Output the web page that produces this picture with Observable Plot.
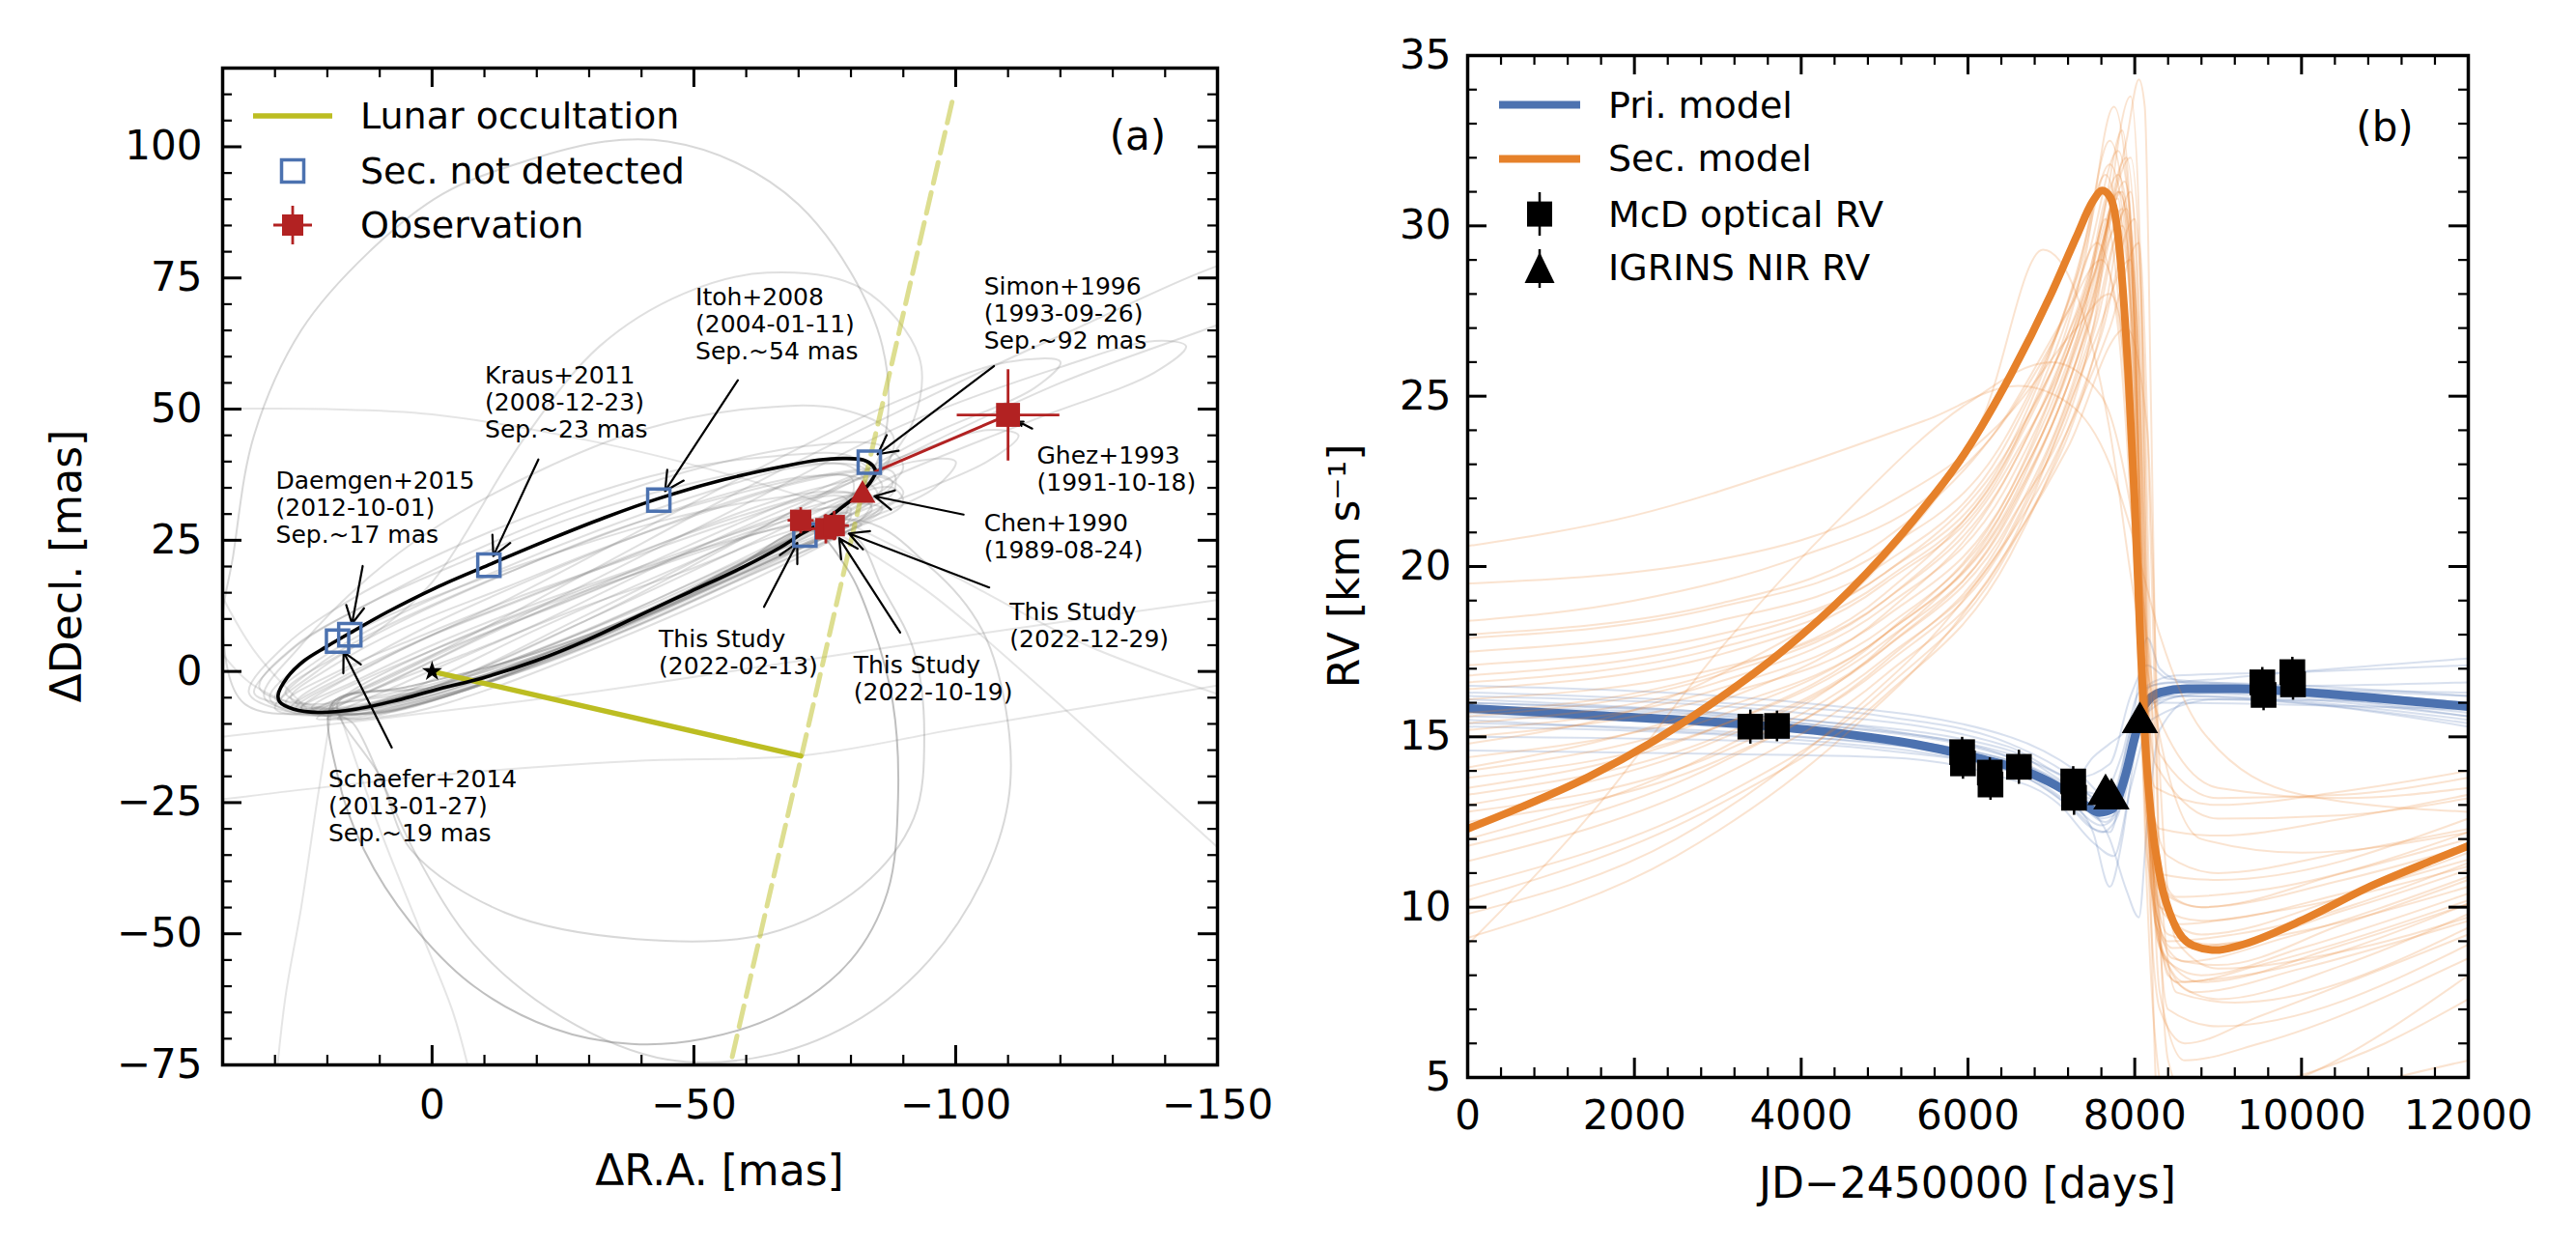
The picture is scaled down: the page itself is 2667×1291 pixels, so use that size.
<!DOCTYPE html>
<html><head><meta charset="utf-8">
<script src="https://cdn.jsdelivr.net/npm/d3@7"></script>
<script src="https://cdn.jsdelivr.net/npm/@observablehq/plot@0.6"></script>
<style>
html,body{margin:0;padding:0;background:#fff;}
#root{position:relative;width:2667px;height:1291px;overflow:hidden;font-family:"DejaVu Sans",sans-serif;}
#root svg{position:absolute;overflow:visible;}
</style></head><body><div id="root"></div>
<script>
// ---------------- Panel (a) data: relative astrometry [mas] ----------------
const raMajor = [0, -50, -100, -150];
const raMinor = [30, 20, 10, -10, -20, -30, -40, -60, -70, -80, -90, -110, -120, -130, -140];
const decMajor = [-75, -50, -25, 0, 25, 50, 75, 100];
const decMinor = d3.range(-70, 115, 5).filter(v => v % 25 !== 0);

const primaryStar = [[0, 0]];
const bestOrbit = [
  [29.4,-4.5],[27.7,-1.2],[24.5,2.0],[20.2,4.7],[15.2,7.6],[8.6,11.3],[-0.6,15.9],[-10.8,20.3],
  [-23.0,25.4],[-32.9,29.3],[-43.4,33.0],[-55.9,36.6],[-67.6,39.2],[-73.8,40.3],[-78.7,40.6],
  [-82.4,40.3],[-84.2,39.2],[-84.7,38.0],[-84.2,36.8],[-83.0,35.2],[-81.1,33.4],[-78.7,31.6],
  [-76.2,29.7],[-73.5,27.9],[-70.7,26.3],[-66.4,23.6],[-59.2,19.8],[-49.3,15.2],[-39.4,10.6],
  [-29.6,6.0],[-19.7,2.0],[-9.8,-1.2],[-0.6,-3.5],[6.7,-5.5],[14.6,-7.2],[21.8,-7.8],[26.4,-7.2],[29.1,-5.8]
];
const grayBandOrbits = [
  [[29,-6],[22,1],[10,8],[-10,17],[-30,25],[-50,32],[-70,37],[-81,37],[-85,34],[-80,30],[-68,24],[-50,15],[-30,6],[-10,-1],[8,-6],[20,-8]],
  [[27,-7],[17,-1],[0,7],[-20,15],[-40,23],[-60,30],[-76,34],[-84,33],[-82,29],[-70,24],[-50,15],[-30,6],[-10,-1],[8,-6],[19,-8]],
  [[24,-8],[12,-3],[-5,5],[-25,13],[-45,21],[-65,28],[-80,32],[-86,31],[-80,27],[-60,18],[-40,9],[-20,1],[0,-5],[14,-8]],
  [[33,-3],[26,5],[12,13],[-8,23],[-30,32],[-52,39],[-72,43],[-86,43],[-90,39],[-84,33],[-70,26],[-50,15],[-30,6],[-10,-1],[10,-5],[26,-6]],
  [[22,-9],[8,-2],[-15,9],[-40,20],[-65,31],[-90,41],[-106,46],[-112,45],[-106,40],[-85,31],[-60,19],[-35,8],[-10,-2],[8,-7]],
  [[20,-9],[5,-2],[-20,9],[-45,21],[-70,32],[-92,40],[-100,40],[-96,35],[-78,27],[-55,16],[-30,5],[-5,-4],[10,-8]],
  [[31,-5],[24,2],[12,9],[-5,16],[-25,23],[-45,29],[-65,33],[-80,34],[-84,31],[-78,27],[-62,20],[-42,11],[-20,3],[0,-3],[15,-7],[26,-8]],
  [[35,-4],[28,5],[15,14],[-5,24],[-25,32],[-45,38],[-65,41],[-80,41],[-84,37],[-78,31],[-62,22],[-42,12],[-20,3],[0,-4],[18,-8],[30,-7]],
  [[26,-6],[15,1],[0,9],[-20,18],[-42,27],[-62,34],[-78,38],[-88,38],[-88,34],[-78,29],[-60,21],[-40,12],[-20,4],[0,-3],[15,-7]],
  [[18,-9],[3,-3],[-20,8],[-45,19],[-68,29],[-82,34],[-86,32],[-78,26],[-58,16],[-35,6],[-12,-3],[5,-8]],
  [[32,-5],[25,5],[12,18],[0,27],[-20,38],[-40,46],[-60,50],[-78,50],[-88,45],[-86,38],[-72,28],[-52,17],[-30,6],[-8,-3],[12,-8]],
  [[20,-8],[0,2],[-30,17],[-60,32],[-90,47],[-120,58],[-138,63],[-144,62],[-138,57],[-115,48],[-90,38],[-60,24],[-30,10],[0,-3]],
  [[25,-7],[10,2],[-15,14],[-40,27],[-65,40],[-90,52],[-110,59],[-120,59],[-115,54],[-95,45],[-75,34],[-55,23],[-30,10],[-5,-1],[12,-5]],
  [[22,-8],[0,3],[-30,19],[-60,35],[-90,50],[-120,64],[-160,80],[-175,78],[-160,70],[-120,55],[-90,41],[-60,26],[-30,11],[0,-3]],
  [[30,-7],[22,0],[10,8],[0,17],[-18,45],[-32,62],[-48,72],[-64,76],[-82,73],[-93,60],[-92,48],[-85,38],[-72,28],[-52,17],[-30,6],[-8,-3],[12,-8]],
  [[23,-7],[14,-2],[0,4],[-20,12],[-40,19],[-58,25],[-72,29],[-80,30],[-78,27],[-65,22],[-45,13],[-25,4],[-5,-4],[10,-8]],
  [[28,-4],[18,3],[5,10],[-15,19],[-35,27],[-55,33],[-72,37],[-80,37],[-80,33],[-70,27],[-52,18],[-32,9],[-12,1],[6,-5],[20,-7]],
  [[25,-7],[15,-2],[0,5],[-20,13],[-40,20],[-60,27],[-74,31],[-80,31],[-78,28],[-66,23],[-48,15],[-28,6],[-8,-2],[10,-7]],
  [[28,-6],[18,0],[4,6],[-16,14],[-36,21],[-56,28],[-72,33],[-79,33],[-79,30],[-68,25],[-50,17],[-30,8],[-10,0],[8,-5],[21,-8]],
  [[21,-8],[10,-3],[-8,4],[-28,12],[-48,19],[-66,26],[-78,29],[-82,28],[-74,25],[-56,17],[-36,8],[-16,0],[2,-6],[14,-9]],
  [[30,-5],[22,2],[8,10],[-12,19],[-32,27],[-52,34],[-70,39],[-82,39],[-86,35],[-78,30],[-62,22],[-42,12],[-22,3],[-2,-4],[14,-7],[25,-7]],
  [[26,-7],[16,-1],[2,6],[-18,14],[-38,22],[-58,30],[-74,35],[-86,37],[-90,34],[-82,29],[-64,21],[-44,12],[-24,3],[-4,-4],[12,-8]],
  [[34,-4],[27,4],[14,12],[-6,21],[-26,29],[-46,35],[-66,39],[-80,39],[-83,35],[-76,29],[-58,20],[-38,10],[-18,2],[2,-5],[20,-8],[30,-6]],
  [[27,-5],[19,1],[6,8],[-14,16],[-34,24],[-54,31],[-70,36],[-83,38],[-88,36],[-82,31],[-66,23],[-46,13],[-26,5],[-6,-2],[12,-6],[22,-7]],
  [[23,-8],[13,-3],[-2,4],[-22,12],[-42,20],[-62,28],[-78,33],[-88,35],[-90,32],[-80,27],[-62,19],[-42,10],[-22,2],[-2,-5],[13,-8]]
];
const grayWideOrbits = [
  [[36,-6],[40,8],[38,22],[34,45],[25,65],[12,80],[-2,91],[-17,97],[-33,101],[-45,101],[-58,97],[-70,89],[-80,76],[-86,62],[-87,48],[-84,38],[-76,30],[-58,20],[-38,10],[-18,2],[2,-4],[22,-8]],
  [[-80,29],[-95,20],[-105,8],[-110,-10],[-110,-25],[-105,-40],[-95,-55],[-82,-66],[-65,-73],[-45,-74],[-25,-66],[-8,-52],[3,-35],[10,-20],[15,-10],[19,-7]],
  [[18,-6],[10,-20],[4,-34],[-14,-46],[-39,-51],[-64,-50],[-82,-41],[-92,-28],[-94,-12],[-92,4],[-86,16],[-80,26],[-60,19],[-40,10],[-20,2],[0,-3]]
];
const grayDarkOrbit = [
  [[19,-6],[18,-20],[13,-34],[4,-48],[-8,-60],[-23,-68],[-38,-71],[-52,-70],[-67,-65],[-80,-55],[-87,-42],[-89,-24],[-88,-6],[-84,9],[-79,20],[-72,27],[-55,18],[-35,9],[-15,2],[5,-3]]
];
const grayArcs = [
  [[19,-6],[22,-25],[25,-45],[28,-62],[30,-80]],
  [[18,-7],[10,-30],[2,-50],[-4,-65],[-8,-80]],
  [[45,-25],[20,-22],[-10,-19],[-40,-17],[-71,-16],[-100,-11],[-130,-6],[-160,-1]],
  [[45,-13],[10,-9],[-30,-4],[-70,2],[-110,8],[-160,15]],
  [[-78,26],[-95,15],[-115,-2],[-135,-20],[-155,-38]],
  [[-80,28],[-100,18],[-125,5],[-155,-6]],
  [[45,50],[20,50],[0,49],[-30,44],[-55,38],[-75,32]],
  [[24,-7],[34,4],[42,18]],
  [[22,-8],[35,-2],[45,10]]
];
const lunarSolid = [[0, 0], [-70.4, -16.1]];
const lunarDashed = [[-99.3, 108.5], [-56.5, -77]];
const notDetected = [[18.05,5.77],[15.71,7.0],[-10.85,20.25],[-43.3,32.65],[-83.5,39.9],[-71.2,26.0]];
// [x, y, xerr, yerr]
const observed = [[-70.4,28.8,2.5,2.5],[-75.2,27.2,2.8,2.8],[-76.8,27.8,2.8,2.8]];
const ghez = [[-110.0,48.9,9.8,8.7]];
const ghezLink = [[-84.5,38.0,-110.0,48.9]];
const chen = [[-82.2,33.6]];
const annText = [
  "Itoh+2008\n(2004-01-11)\nSep.~54 mas","Kraus+2011\n(2008-12-23)\nSep.~23 mas",
  "Daemgen+2015\n(2012-10-01)\nSep.~17 mas","Schaefer+2014\n(2013-01-27)\nSep.~19 mas",
  "Simon+1996\n(1993-09-26)\nSep.~92 mas","Ghez+1993\n(1991-10-18)","Chen+1990\n(1989-08-24)",
  "This Study\n(2022-02-13)","This Study\n(2022-10-19)","This Study\n(2022-12-29)"
];
const annXY = [[-50.3,71.8],[-10.1,56.9],[29.85,36.8],[19.8,-20.0],[-105.4,73.9],[-115.5,41.7],[-105.4,28.7],[-43.3,6.6],[-80.5,1.7],[-110.3,11.7]];
const arrowFrom = [[-58.4,55.5],[-20.3,40.4],[13.25,20.1],[7.7,-14.5],[-107.3,58.2],[-114.6,46.3],[-101.5,29.9],[-63.4,12.3],[-89.4,7.4],[-106.4,16.0]];
const arrowTo = [[-44.5,34.4],[-11.7,22.0],[15.3,9.1],[16.9,3.7],[-85.1,41.4],[-112.0,47.6],[-84.5,33.4],[-69.75,24.5],[-77.75,25.4],[-79.6,26.3]];

// ---------------- Panel (b) data: radial velocities ----------------
const jdMajor = d3.range(0, 12001, 2000);
const jdMinor = d3.range(0, 12001, 400).filter(v => v % 2000 !== 0);
const rvMajor = [5, 10, 15, 20, 25, 30, 35];
const rvMinor = d3.range(6, 35, 1).filter(v => v % 5 !== 0);

const priModel = [[0,15.84],[1454,15.64],[3387,15.36],[4572,15.07],[5351,14.79],[6130,14.37],[6753,13.93],[7143,13.45],[7416,12.98],[7572,12.78],[7728,12.88],[7884,13.83],[8000,14.98],[8117,15.93],[8312,16.31],[8624,16.41],[9247,16.41],[10027,16.31],[10806,16.16],[12000,15.89]];
const secModel = [[0,12.3],[675,12.97],[1454,13.83],[2234,14.88],[3013,16.12],[3792,17.55],[4572,19.27],[5351,21.37],[5974,23.37],[6520,25.66],[6987,27.95],[7299,29.67],[7494,30.71],[7611,31.04],[7704,30.85],[7782,30.05],[7845,28.52],[7922,25.66],[8000,21.84],[8063,18.03],[8117,15.17],[8195,12.69],[8312,10.78],[8468,9.54],[8702,8.87],[8975,8.74],[9247,8.87],[10027,9.64],[10806,10.59],[11585,11.39],[12000,11.8]];
const secSamples = [
  [[0,20.6],[2000,21.5],[4000,23.0],[5500,24.3],[6600,25.3],[7200,24.8],[7700,23],[8000,20.7],[8300,18],[8800,15.2],[10000,13.3],[12000,12.8]],
  [[0,18.4],[2000,19.0],[4000,20.3],[5500,22],[6500,24.5],[7200,27.5],[7550,29.5],[7800,27],[8000,20],[8150,14],[8400,11.5],[9000,11],[10500,11.6],[12000,12.3]],
  [[0,17.9],[3000,18.8],[5000,20.5],[6500,24],[7300,28.5],[7650,31.5],[7850,29],[8000,22],[8150,13],[8350,9.8],[8800,9.2],[10500,10.3],[12000,11.6]],
  [[0,17.1],[3000,18],[5000,19.8],[6500,23.5],[7400,29.5],[7700,32.5],[7900,30],[8050,20],[8200,11],[8450,8.5],[9000,8.3],[10500,9.5],[12000,10.8]],
  [[0,16.4],[3000,17.4],[5000,19.5],[6500,23.2],[7400,29],[7750,33.5],[7950,30],[8050,22],[8150,12],[8300,7],[8600,6],[9500,6.8],[12000,9.2]],
  [[0,16.1],[3000,17],[5000,19],[6500,22.8],[7500,28.5],[7850,31],[8000,27],[8150,15],[8350,10.5],[8800,10],[10500,11],[12000,12]],
  [[0,15.4],[3000,16.6],[5000,18.8],[6500,22.5],[7400,27.8],[7800,31.5],[8000,28],[8120,18],[8250,11],[8500,9.5],[9500,9.8],[12000,11.2]],
  [[0,15.0],[3000,16.2],[5000,18.2],[6500,22],[7500,28],[7900,32],[8050,27],[8150,16],[8300,9],[8600,7.8],[9500,8.3],[12000,10.2]],
  [[0,14.4],[3000,15.8],[5000,18],[6500,21.8],[7450,27.5],[7800,30],[8000,26],[8150,14],[8300,10],[8800,9.6],[10500,10.4],[12000,11.4]],
  [[0,13.8],[3000,15.3],[5000,17.8],[6500,21.5],[7500,27.5],[7850,30.5],[8000,25],[8100,14],[8250,6],[8400,4],[9200,4.5],[11000,6],[12000,7.3]],
  [[0,13.3],[3000,15],[5000,17.6],[6500,21.3],[7500,27],[7950,33.8],[8080,28],[8150,16],[8250,5],[8350,2],[9000,3],[12000,5.5]],
  [[0,11.35],[3000,13.8],[5000,16.8],[6500,20.6],[7500,26.5],[7950,29],[8100,22],[8200,12],[8350,8.5],[8800,8],[10000,8.8],[12000,10.4]],
  [[0,10.6],[3000,13.2],[5000,16.4],[6500,20.5],[7600,27],[7950,31],[8100,24],[8200,13],[8400,8],[9000,7.3],[10500,8.3],[12000,9.8]],
  [[0,9.8],[2500,12],[4500,15.5],[6000,19.2],[7000,23],[7700,27],[8050,29.5],[8200,20],[8300,11],[8500,7.5],[9200,7.2],[12000,9.4]],
  [[0,9.1],[2500,11.5],[4500,15],[6000,18.8],[7200,23.5],[7900,27],[8150,24],[8300,14],[8500,9],[9000,8.2],[10500,8.7],[12000,9.7]],
  [[0,14.8],[3000,16.8],[5000,20.2],[6200,24.5],[6900,29.3],[7300,28],[7700,24],[8000,19],[8300,15.5],[9000,13.5],[10500,13.2],[12000,13.5]],
  [[0,15.6],[3000,16.8],[5000,19],[6500,23],[7500,28.5],[7900,32.5],[8050,34.3],[8120,33.5],[8200,24],[8300,10],[8400,5.5],[8700,4],[10000,5],[12000,8]],
  [[0,16.8],[3000,17.8],[5000,19.8],[6500,23.5],[7400,28],[7800,30.8],[7900,27.5],[8000,22],[8100,15],[8300,12.3],[9000,12.1],[10500,12.6],[12000,13.3]],
  [[0,12.8],[3000,14.5],[5000,17.3],[6500,21],[7500,27],[7850,30],[8000,27],[8100,17],[8250,9.5],[8600,8.4],[9800,9.1],[12000,10.9]],
  [[0,8.9],[1500,12.8],[3000,17.5],[4500,21.5],[6000,24.8],[7000,26],[7600,25],[8000,21],[8300,15],[8800,12],[10000,11.6],[12000,12.2]],
  [[0,12.0],[3000,14.6],[5000,17.7],[6500,22],[7400,27.5],[7650,30.2],[7800,28],[8000,20],[8100,14],[8300,10.5],[8800,10],[10500,10.8],[12000,11.8]],
  [[0,14.1],[3000,16],[5000,18.6],[6500,22.8],[7450,28.5],[7700,31],[7850,28.5],[8000,21],[8100,16],[8250,13.5],[9000,13],[10500,13.4],[12000,14.0]],
  [[0,13.5],[3000,15.3],[5000,18],[6500,22.2],[7550,28.8],[7950,32],[8100,26],[8200,13],[8300,7.5],[8600,5.5],[9500,6],[12000,8.5]],
  [[0,15.7],[3000,16.9],[5000,19.2],[6600,23.8],[7600,30],[7850,32.8],[7950,30],[8050,20],[8150,11.5],[8400,9],[9200,9.2],[12000,11.3]],
  [[0,19.5],[3000,20.2],[5000,21.8],[6500,24.5],[7300,27],[7700,28],[7950,25],[8100,19],[8300,14.5],[9000,13.2],[10500,13.3],[12000,13.8]],
  [[0,17.5],[3000,18.4],[5000,20.1],[6500,23.8],[7350,28.8],[7700,31.8],[7900,29.5],[8030,21],[8150,12.5],[8400,9.2],[9000,8.9],[10500,9.9],[12000,11.1]],
  [[0,16.6],[3000,17.6],[5000,19.6],[6500,23.3],[7450,29.2],[7800,32.2],[7980,29],[8100,18],[8220,10],[8500,7.8],[9300,8],[12000,10.1]],
  [[0,15.2],[3000,16.4],[5000,18.5],[6500,22.2],[7450,27.8],[7820,31],[7980,28],[8100,17],[8200,10.5],[8450,8.8],[9300,9],[12000,10.6]],
  [[0,14.0],[3000,15.6],[5000,18],[6500,21.7],[7500,27.6],[7880,31.3],[8030,27],[8130,16],[8280,9],[8700,7.5],[10000,8.2],[12000,9.6]],
  [[0,12.5],[3000,14.3],[5000,17.1],[6500,20.9],[7550,27.2],[7900,30.5],[8050,26],[8150,15],[8300,8.8],[8800,7.8],[10500,8.9],[12000,10.1]],
  [[0,10.2],[3000,13],[5000,16.2],[6500,20.3],[7600,26.8],[8000,30.2],[8120,25],[8230,13],[8400,7],[9000,6.5],[12000,8.9]],
  [[0,11.8],[3000,14.2],[5000,17.2],[6500,21.2],[7450,27],[7780,30.5],[7950,28],[8080,19],[8200,12.5],[8500,10.3],[9500,10.5],[12000,12.2]],
  [[0,13.0],[3000,14.9],[5000,17.6],[6500,21.6],[7500,27.8],[7800,31],[7950,29.5],[8060,22],[8140,14],[8260,11],[9000,10.8],[12000,12.6]],
  [[0,18.0],[3000,18.9],[5000,20.8],[6400,24.2],[7200,27.5],[7600,29],[7850,26.5],[8050,19],[8250,14.2],[9000,12.6],[10500,12.7],[12000,13.2]]
];
const priSamples = [
  [[0,16.3],[3000,16.0],[5000,15.6],[6500,14.8],[7200,13.9],[7550,13.2],[7750,13.3],[7950,15.2],[8150,16.5],[8500,16.8],[10000,16.9],[12000,17.1]],
  [[0,16.1],[3000,15.7],[5000,15.2],[6500,14.4],[7300,13.4],[7600,12.9],[7800,13.4],[8000,15.2],[8200,16.2],[9000,16.4],[12000,16.2]],
  [[0,15.5],[3000,15.1],[5000,14.8],[6500,14.1],[7300,13.2],[7600,12.6],[7750,12.7],[7950,14.8],[8200,16.0],[9000,16.3],[12000,15.6]],
  [[0,15.0],[3000,14.9],[5000,14.6],[6500,14.0],[7200,13.0],[7500,12.3],[7700,12.2],[7900,14],[8100,15.6],[8600,16.2],[12000,15.5]],
  [[0,14.6],[3000,14.5],[5000,14.4],[6300,13.9],[7100,13.0],[7500,11.9],[7750,11.5],[7950,13.5],[8200,15.5],[9000,16.1],[12000,15.3]],
  [[0,15.7],[3000,15.3],[5000,14.9],[6500,14.2],[7200,13.2],[7500,12.2],[7700,10.6],[7850,12.0],[8000,14.5],[8200,16.0],[12000,15.8]],
  [[0,15.9],[4000,15.2],[6500,14.3],[7300,13.2],[7700,12.0],[7900,10.5],[8050,9.7],[8150,12.5],[8300,15.2],[8700,16.1],[12000,16.0]],
  [[0,16.0],[4000,15.4],[6500,14.4],[7300,13.3],[7700,13.1],[7950,15.0],[8150,17.9],[8300,17.0],[8600,16.6],[12000,16.3]],
  [[0,16.2],[4000,15.7],[6500,14.7],[7300,13.8],[7700,14.2],[7950,16.2],[8150,17.1],[8400,16.7],[10000,16.5],[12000,16.6]],
  [[0,15.3],[4000,14.9],[6500,14.0],[7300,12.8],[7600,12.2],[7800,12.7],[8000,15.4],[8300,16.4],[10000,16.2],[12000,15.7]],
  [[0,15.8],[4000,15.2],[6500,14.3],[7200,13.5],[7500,14.4],[7700,14.8],[7900,15.2],[8100,16.0],[9000,16.4],[12000,16.0]],
  [[0,16.5],[4000,16.0],[6500,15.0],[7300,14.0],[7700,13.2],[8000,15.6],[8200,16.5],[9000,16.7],[12000,17.3]],
  [[0,15.9],[4000,15.4],[6500,14.5],[7300,13.6],[7650,13.0],[7900,14.2],[8100,16.0],[8500,16.5],[12000,16.0]],
  [[0,15.6],[4000,15.2],[6500,14.2],[7300,13.1],[7650,12.5],[7850,13.3],[8050,15.6],[8400,16.3],[12000,15.6]],
  [[0,16.0],[4000,15.5],[6500,14.6],[7300,13.5],[7600,13.3],[7850,14.5],[8050,16.3],[8400,16.6],[12000,16.2]],
  [[0,15.4],[4000,15.0],[6500,14.1],[7250,13.0],[7600,12.4],[7850,13.0],[8050,15.3],[8400,16.2],[12000,15.4]]
];
// [JD-2450000, RV, err]
const mcdRV = [[3390,15.3,0.5],[3710,15.32,0.45],[5930,14.55,0.45],[5940,14.22,0.45],[6262,13.95,0.45],[6270,13.6,0.45],[6611,14.12,0.5],[7262,13.69,0.45],[7272,13.21,0.5],[9530,16.6,0.45],[9545,16.23,0.45],[9890,16.9,0.45],[9898,16.54,0.45]];
const igrinsRV = [[8062,15.56,0.3],[7650,13.45,0.3],[7720,13.32,0.3]];

// ---------------- helpers ----------------
const fmt = d => d < 0 ? "\u2212" + Math.abs(d) : String(d);
const flat = arr => arr.flatMap((pts, id) => pts.map(([x, y]) => ({id, x, y})));
const FONT = "'DejaVu Sans', sans-serif";
const annRows = annText.map((t, i) => ({t, x: annXY[i][0], y: annXY[i][1], x1: arrowFrom[i][0], y1: arrowFrom[i][1], x2: arrowTo[i][0], y2: arrowTo[i][1]}));

// ---------------- left panel ----------------
const LW = 1300, LH = 1291, LmL = 230, LmR = 40, LmT = 70, LmB = 189;
const LpW = LW - LmL - LmR, LpH = LH - LmT - LmB;
const grayStyle = {x: "x", y: "y", z: "id", stroke: "#7f7f7f", strokeWidth: 2, clip: true};
const left = Plot.plot({
  width: LW, height: LH, marginLeft: LmL, marginRight: LmR, marginTop: LmT, marginBottom: LmB,
  x: {domain: [40, -150]}, y: {domain: [-75, 115]},
  style: {fontFamily: FONT, background: "transparent", color: "black", overflow: "visible"},
  marks: [
    Plot.line(flat(grayBandOrbits), {...grayStyle, curve: "catmull-rom-closed", strokeOpacity: 0.25}),
    Plot.line(flat(grayWideOrbits), {...grayStyle, curve: "catmull-rom-closed", strokeOpacity: 0.3}),
    Plot.line(flat(grayDarkOrbit), {...grayStyle, curve: "catmull-rom-closed", strokeOpacity: 0.5}),
    Plot.line(flat(grayArcs), {...grayStyle, curve: "catmull-rom", strokeOpacity: 0.2}),
    Plot.line(lunarDashed, {x: d => d[0], y: d => d[1], stroke: "#bcbd22", strokeOpacity: 0.5, strokeWidth: 5, strokeDasharray: "22,10", clip: true}),
    Plot.line(lunarSolid, {x: d => d[0], y: d => d[1], stroke: "#bcbd22", strokeWidth: 5.5}),
    Plot.line(bestOrbit, {x: d => d[0], y: d => d[1], curve: "catmull-rom-closed", stroke: "black", strokeWidth: 3.6}),
    Plot.link(ghezLink, {x1: d => d[0], y1: d => d[1], x2: d => d[2], y2: d => d[3], stroke: "#B22222", strokeWidth: 3}),
    Plot.arrow(annRows, {x1: "x1", y1: "y1", x2: "x2", y2: "y2", stroke: "black", strokeWidth: 2.2, headLength: 15, headAngle: 55, insetStart: 0, insetEnd: 0}),
    Plot.dot(notDetected, {x: d => d[0], y: d => d[1], symbol: "square", r: 13, fill: "none", stroke: "#4C72B0", strokeWidth: 3.5}),
    Plot.link(observed.concat(ghez), {x1: d => d[0] - d[2], x2: d => d[0] + d[2], y1: d => d[1], y2: d => d[1], stroke: "#B22222", strokeWidth: 2.8}),
    Plot.link(observed.concat(ghez), {x1: d => d[0], x2: d => d[0], y1: d => d[1] - d[3], y2: d => d[1] + d[3], stroke: "#B22222", strokeWidth: 2.8}),
    Plot.dot(observed, {x: d => d[0], y: d => d[1], symbol: "square", r: 12.5, fill: "#B22222"}),
    Plot.dot(ghez, {x: d => d[0], y: d => d[1], symbol: "square", r: 14, fill: "#B22222"}),
    Plot.dot(chen, {x: d => d[0], y: d => d[1], symbol: "triangle", r: 10, fill: "#B22222"}),
    Plot.dot(primaryStar, {x: d => d[0], y: d => d[1], symbol: "star", r: 6.6, fill: "black"}),
    Plot.text(annRows, {x: "x", y: "y", text: "t", fontSize: 25, textAnchor: "start", lineAnchor: "top", lineHeight: 1.12, dy: -9, fill: "black"}),
    Plot.ruleX(raMajor, {insetTop: LpH - 20, strokeWidth: 3}),
    Plot.ruleX(raMajor, {insetBottom: LpH - 20, strokeWidth: 3}),
    Plot.ruleX(raMinor, {insetTop: LpH - 10, strokeWidth: 2.2}),
    Plot.ruleX(raMinor, {insetBottom: LpH - 10, strokeWidth: 2.2}),
    Plot.ruleY(decMajor, {insetRight: LpW - 20, strokeWidth: 3}),
    Plot.ruleY(decMajor, {insetLeft: LpW - 20, strokeWidth: 3}),
    Plot.ruleY(decMinor, {insetRight: LpW - 10, strokeWidth: 2.2}),
    Plot.ruleY(decMinor, {insetLeft: LpW - 10, strokeWidth: 2.2}),
    Plot.frame({stroke: "black", strokeWidth: 3.5}),
    Plot.axisX({ticks: raMajor, tickSize: 0, tickPadding: 26, fontSize: 42, tickFormat: fmt, label: null}),
    Plot.axisY({ticks: decMajor, tickSize: 0, tickPadding: 21, fontSize: 42, tickFormat: fmt, label: null})
  ]
});
left.style.left = "0px"; left.style.top = "0px"; left.style.overflow = "visible";

// ---------------- right panel ----------------
const RW = 1367, RH = 1291, RmL = 219, RmR = 112, RmT = 57, RmB = 176;
const RpW = RW - RmL - RmR, RpH = RH - RmT - RmB;
const right = Plot.plot({
  width: RW, height: RH, marginLeft: RmL, marginRight: RmR, marginTop: RmT, marginBottom: RmB,
  x: {domain: [0, 12000]}, y: {domain: [5, 35]},
  style: {fontFamily: FONT, background: "transparent", color: "black", overflow: "visible"},
  marks: [
    Plot.line(flat(priSamples), {x: "x", y: "y", z: "id", curve: "monotone-x", stroke: "#4C72B0", strokeOpacity: 0.22, strokeWidth: 2, clip: true}),
    Plot.line(priModel, {x: d => d[0], y: d => d[1], curve: "monotone-x", stroke: "#4C72B0", strokeWidth: 9, clip: true}),
    Plot.line(flat(secSamples), {x: "x", y: "y", z: "id", curve: "monotone-x", stroke: "#E6812A", strokeOpacity: 0.22, strokeWidth: 2, clip: true}),
    Plot.line(secModel, {x: d => d[0], y: d => d[1], curve: "monotone-x", stroke: "#E6812A", strokeWidth: 8, clip: true}),
    Plot.link(mcdRV.concat(igrinsRV), {x1: d => d[0], x2: d => d[0], y1: d => d[1] - d[2], y2: d => d[1] + d[2], stroke: "black", strokeWidth: 2.5}),
    Plot.dot(mcdRV, {x: d => d[0], y: d => d[1], symbol: "square", r: 15, fill: "black"}),
    Plot.dot(igrinsRV, {x: d => d[0], y: d => d[1], symbol: "triangle", r: 14, fill: "black", dy: 5}),
    Plot.ruleX(jdMajor, {insetTop: RpH - 20, strokeWidth: 3}),
    Plot.ruleX(jdMajor, {insetBottom: RpH - 20, strokeWidth: 3}),
    Plot.ruleX(jdMinor, {insetTop: RpH - 10, strokeWidth: 2.2}),
    Plot.ruleX(jdMinor, {insetBottom: RpH - 10, strokeWidth: 2.2}),
    Plot.ruleY(rvMajor, {insetRight: RpW - 20, strokeWidth: 3}),
    Plot.ruleY(rvMajor, {insetLeft: RpW - 20, strokeWidth: 3}),
    Plot.ruleY(rvMinor, {insetRight: RpW - 10, strokeWidth: 2.2}),
    Plot.ruleY(rvMinor, {insetLeft: RpW - 10, strokeWidth: 2.2}),
    Plot.frame({stroke: "black", strokeWidth: 3.5}),
    Plot.axisX({ticks: jdMajor, tickSize: 0, tickPadding: 24, fontSize: 42, tickFormat: fmt, label: null}),
    Plot.axisY({ticks: rvMajor, tickSize: 0, tickPadding: 17, fontSize: 42, tickFormat: fmt, label: null})
  ]
});
right.style.left = "1300px"; right.style.top = "0px"; right.style.overflow = "visible";

const root = document.getElementById("root");
root.appendChild(right);
root.appendChild(left);

// ---------------- legends, panel tags, axis titles ----------------
const ns = "http://www.w3.org/2000/svg";
const ov = document.createElementNS(ns, "svg");
ov.setAttribute("width", 2667); ov.setAttribute("height", 1291);
ov.style.left = "0px"; ov.style.top = "0px";
ov.setAttribute("font-family", "DejaVu Sans, sans-serif");
ov.innerHTML = `
  <line x1="262" y1="120" x2="344" y2="120" stroke="#bcbd22" stroke-width="5.5"/>
  <rect x="291.5" y="165.5" width="23" height="23" fill="none" stroke="#4C72B0" stroke-width="3.5"/>
  <line x1="283" y1="233" x2="323" y2="233" stroke="#B22222" stroke-width="2.8"/>
  <line x1="303" y1="213" x2="303" y2="253" stroke="#B22222" stroke-width="2.8"/>
  <rect x="292" y="222" width="22" height="22" fill="#B22222"/>
  <g font-size="38" dominant-baseline="central" fill="black">
    <text x="373" y="120">Lunar occultation</text>
    <text x="373" y="177">Sec. not detected</text>
    <text x="373" y="233">Observation</text>
  </g>
  <line x1="1552" y1="108.5" x2="1636" y2="108.5" stroke="#4C72B0" stroke-width="8"/>
  <line x1="1552" y1="164.4" x2="1636" y2="164.4" stroke="#E6812A" stroke-width="8"/>
  <line x1="1594" y1="199" x2="1594" y2="244" stroke="black" stroke-width="2.5"/>
  <rect x="1581" y="208.6" width="26" height="26" fill="black"/>
  <line x1="1594" y1="258" x2="1594" y2="298" stroke="black" stroke-width="2.5"/>
  <polygon points="1594,261 1578.5,293 1609.5,293" fill="black"/>
  <g font-size="38" dominant-baseline="central" fill="black">
    <text x="1665" y="108.5">Pri. model</text>
    <text x="1665" y="164.4">Sec. model</text>
    <text x="1665" y="221.6">McD optical RV</text>
    <text x="1665" y="277.4">IGRINS NIR RV</text>
  </g>
  <g font-size="42" dominant-baseline="central" text-anchor="middle" fill="black">
    <text x="1178" y="140">(a)</text>
    <text x="2469" y="131">(b)</text>
  </g>
  <g font-size="44" dominant-baseline="central" text-anchor="middle" fill="black">
    <text x="745" y="1211">\u0394R.A. [mas]</text>
    <text x="2037" y="1224">JD\u22122450000 [days]</text>
    <text transform="translate(68,586) rotate(-90)">\u0394Decl. [mas]</text>
    <text transform="translate(1391,586) rotate(-90)">RV [km s\u207B\u00B9]</text>
  </g>`;
root.appendChild(ov);
</script></body></html>
